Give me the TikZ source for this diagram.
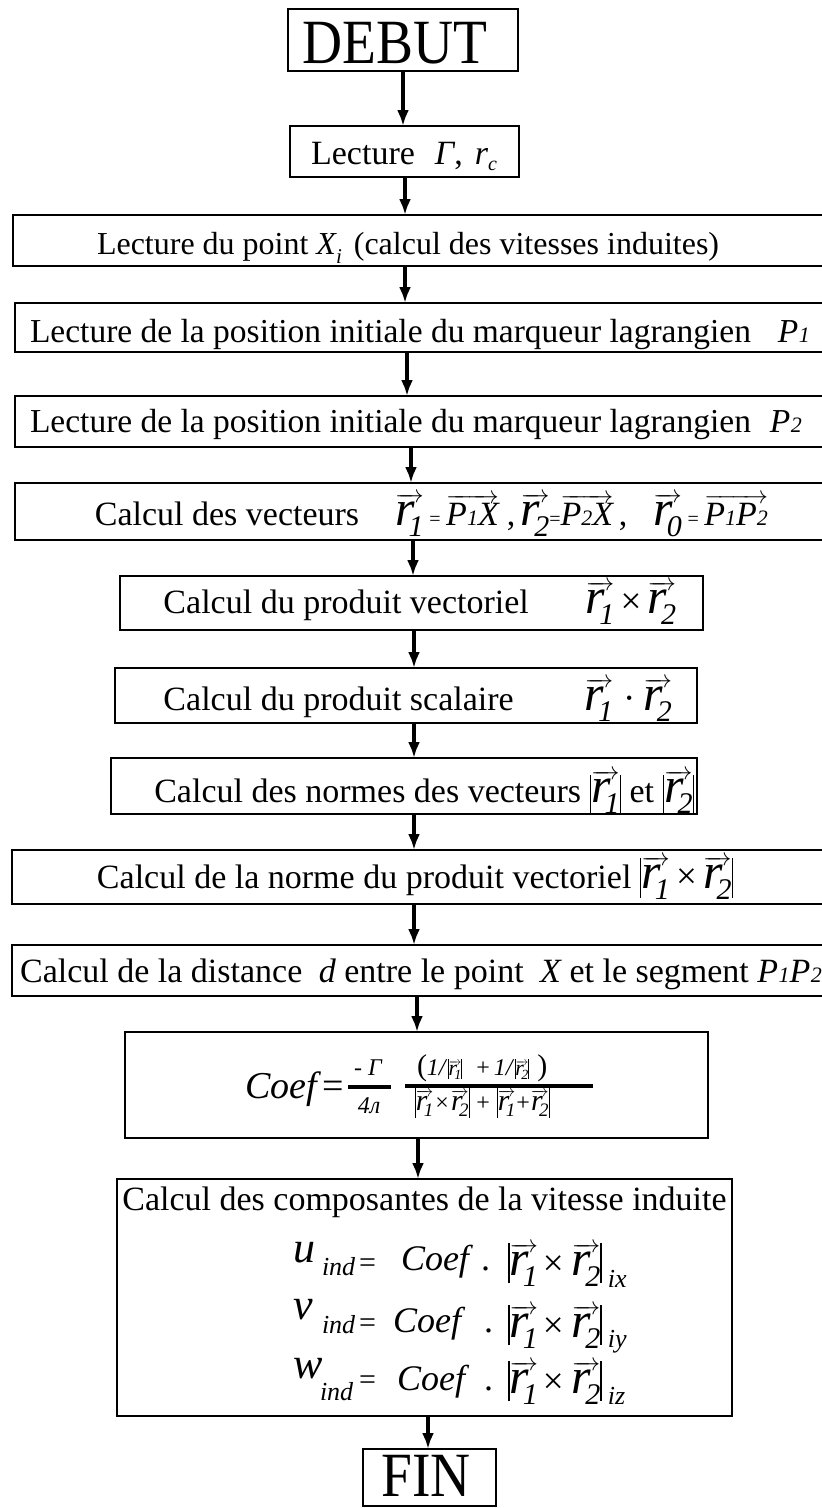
\documentclass[tikz,border=0pt]{standalone}
\usepackage{fontspec}
\setmainfont{Liberation Serif}
\newfontfamily\condfont[FakeStretch=0.88]{Liberation Serif}
\usetikzlibrary{arrows.meta}
\newcommand\fsz[1]{\fontsize{#1}{#1}\selectfont}
% vector r with arrow: #1 math size, #2 r size, #3 sub size, #4 lowering, #5 subscript
\newcommand\vecr[5]{\mbox{\fsz{#1}$\overrightarrow{\mbox{\fsz{#2}\itshape r\kern-0.12em\raisebox{-#4pt}{\fsz{#3}#5}}}$}}
\newcommand\rvv[1]{\vecr{28}{50}{30}{11}{#1}}
\newcommand\rvm[1]{\vecr{16}{30}{19}{6}{#1}}
\newcommand\rvs[1]{\vecr{12}{22}{14}{4}{#1}}
\newcommand\ovt[1]{\mbox{\fsz{28}$\overrightarrow{\mbox{\fsz{34}\itshape #1}}$}}
\newcommand\Pn[1]{{\itshape P\kern0.5pt{\fsz{22}#1}}}
\newcommand\nbar[2]{\rule[-#2pt]{1.5pt}{#1pt}}
\newcommand\nbars[2]{\rule[-#2pt]{0.9pt}{#1pt}}
\newcommand\crossrr{\nbar{40}{8}\rvv{1}\hspace{5pt}{\fsz{37}×}\hspace{8pt}\rvv{2}\nbar{40}{8}}
\begin{document}
\begin{tikzpicture}[x=1pt,y=-1pt,
  box/.style={draw=black,line width=2.8pt,inner sep=0pt,outer sep=0pt},
  arr/.style={draw=black,line width=3.5pt,-{Latex[length=16pt,width=12pt]}},
  txt/.style={inner sep=0pt,outer sep=0pt,font=\fsz{34}},
  bar/.style={line width=4pt}]
\path[use as bounding box] (0,0) rectangle (822,1508);
\clip (0,0) rectangle (822,1508);
% boxes
\node[box,minimum width=230,minimum height=62] (b1) at (403,40) {};
\node[box,minimum width=229,minimum height=51] (b2) at (404.5,151.5) {};
\node[box,minimum width=830,minimum height=51] (b3) at (428,240.5) {};
\node[box,minimum width=830,minimum height=49] (b4) at (430,327.5) {};
\node[box,minimum width=830,minimum height=51] (b5) at (430,421.5) {};
\node[box,minimum width=830,minimum height=57] (b6) at (430,511.5) {};
\node[box,minimum width=583,minimum height=54] (b7) at (411.5,603) {};
\node[box,minimum width=582,minimum height=55] (b8) at (406,695.5) {};
\node[box,minimum width=586,minimum height=56] (b9) at (404,786) {};
\node[box,minimum width=833,minimum height=54] (b10) at (428.5,877) {};
\node[box,minimum width=833,minimum height=51] (b11) at (428.5,970.5) {};
\node[box,minimum width=583,minimum height=106] (b12) at (416.5,1085) {};
\node[box,minimum width=615,minimum height=237] (b13) at (424.5,1297.5) {};
\node[box,minimum width=133,minimum height=57] (b14) at (429.5,1477.5) {};
% connector columns
\coordinate (a1) at (403,0);
\coordinate (a2) at (405,0);
\coordinate (a3) at (405,0);
\coordinate (a4) at (407,0);
\coordinate (a5) at (411,0);
\coordinate (a6) at (413,0);
\coordinate (a7) at (414,0);
\coordinate (a8) at (414,0);
\coordinate (a9) at (414,0);
\coordinate (a10) at (414,0);
\coordinate (a11) at (417,0);
\coordinate (a12) at (418,0);
\coordinate (a13) at (428,0);
\draw[arr] (b1.south -| a1) -- (b2.north -| a1);
\draw[arr] (b2.south -| a2) -- (b3.north -| a2);
\draw[arr] (b3.south -| a3) -- (b4.north -| a3);
\draw[arr] (b4.south -| a4) -- (b5.north -| a4);
\draw[arr] (b5.south -| a5) -- (b6.north -| a5);
\draw[arr] (b6.south -| a6) -- (b7.north -| a6);
\draw[arr] (b7.south -| a7) -- (b8.north -| a7);
\draw[arr] (b8.south -| a8) -- (b9.north -| a8);
\draw[arr] (b9.south -| a9) -- (b10.north -| a9);
\draw[arr] (b10.south -| a10) -- (b11.north -| a10);
\draw[arr] (b11.south -| a11) -- (b12.north -| a11);
\draw[arr] (b12.south -| a12) -- (b13.north -| a12);
\draw[arr] (b13.south -| a13) -- (b14.north -| a13);
% texts
\node[txt,font=\condfont\fsz{63}] (t1) at (395,43.5) {DEBUT};
\node[txt,anchor=base] (t2) at (404,164) {Lecture\hspace{20pt}{\itshape Γ},\hspace{12pt}{\itshape r\raisebox{-6pt}{\fsz{20}c}}};
\node[txt,anchor=base west,font=\fsz{32}] (t3) at (97,254) {Lecture du point {\itshape X\raisebox{-9pt}{\fsz{21}i}}\hspace{12pt}(calcul des vitesses induites)};
\node[txt,anchor=base west,font=\fsz{33.5}] (t4) at (30,342) {Lecture de la position initiale du marqueur lagrangien\hspace{27pt}\Pn{1}};
\node[txt,anchor=base west,font=\fsz{33.5}] (t5) at (30,432) {Lecture de la position initiale du marqueur lagrangien\hspace{19pt}\Pn{2}};
\node[txt,anchor=base east] (t6) at (768,525) {Calcul des vecteurs\hspace{36pt}\rvv{1}\,{\fsz{20}=}\,\ovt{P{\fsz{22}1}X}\hspace{8pt},\,\rvv{2}{\fsz{20}=}\ovt{P{\fsz{22}2}X}\,,\hspace{26pt}\rvv{0}\,{\fsz{20}=}\,\ovt{P{\fsz{22}1}P{\fsz{22}2}}};
\node[txt,anchor=base east] (t7) at (676,613) {Calcul du produit vectoriel\hspace{57pt}\rvv{1}{\fsz{37}\,×\,}\rvv{2}};
\node[txt,anchor=base east] (t8) at (672,710) {Calcul du produit scalaire\hspace{71pt}\rvv{1}\hspace{10pt}{\fsz{37}·}\hspace{8pt}\rvv{2}};
\node[txt,anchor=base east] (t9) at (694,802) {Calcul des normes des vecteurs \nbar{38}{11}\rvv{1}\nbar{38}{11} et \nbar{38}{11}\rvv{2}\nbar{38}{11}};
\node[txt,anchor=base] (t10) at (415,888) {Calcul de la norme du produit vectoriel \nbar{40}{10}\rvv{1}{\fsz{37}\,×\,}\rvv{2}\nbar{40}{10}};
\node[txt,anchor=base] (t11) at (421,982) {Calcul de la distance\hspace{8pt} {\itshape d} entre le point\hspace{8pt} {\itshape X} et le segment \Pn{1}\Pn{2}};
% coefficient formula
\node[txt,anchor=base west,font=\fsz{38}\itshape] (c1) at (245,1098) {Coef};
\node[txt,anchor=base west,font=\fsz{38}] (c2) at (322,1098) {=};
\draw[bar] (348,1087) -- (391,1087);
\node[txt,anchor=base,font=\fsz{24}\itshape] (c3) at (368,1075) {- Γ};
\node[txt,anchor=base,font=\fsz{24}\itshape] (c4) at (369,1113) {4л};
\draw[bar] (405,1086) -- (593,1086);
\node[txt,anchor=base west,font=\fsz{24}\itshape] (c5) at (417,1075) {{\upshape\fsz{30}(}1/\hspace{2pt}\nbars{20}{4}\rvs{1}\nbars{20}{4}\hspace{14pt}{\upshape +}\hspace{4pt}1/\hspace{2pt}\nbars{20}{4}\rvs{2}\nbars{20}{4}\hspace{8pt}{\upshape\fsz{30})}};
\node[txt,anchor=base west,font=\fsz{24}\itshape] (c6) at (415,1110) {\nbars{30}{8}\rvm{1}\hspace{2pt}{\upshape×}\hspace{2pt}\rvm{2}\nbars{30}{8}\hspace{7pt}{\upshape +}\hspace{7pt}\nbars{30}{8}\rvm{1}\hspace{1pt}{\upshape +}\hspace{1pt}\rvm{2}\nbars{30}{8}};
% components
\node[txt,anchor=base] (t13) at (424.5,1210) {Calcul des composantes de la vitesse induite};
\node[txt,anchor=base west,font=\fsz{44}\itshape] (u1) at (293,1262) {u};
\node[txt,anchor=base west,font=\fsz{26}\itshape] (u2) at (322,1275) {ind};
\node[txt,anchor=base west,font=\fsz{30}] (u3) at (359,1272.5) {=};
\node[txt,anchor=base west,font=\fsz{36}\itshape] (u4) at (401,1270) {Coef};
\node[txt,anchor=base west,font=\fsz{36}] (u5) at (481,1270) {.};
\node[txt,anchor=base west] (u6) at (508,1275) {\crossrr\hspace{6pt}\raisebox{-12pt}{\fsz{26}\itshape ix}};
\node[txt,anchor=base west,font=\fsz{44}\itshape] (v1) at (293,1319) {v};
\node[txt,anchor=base west,font=\fsz{26}\itshape] (v2) at (322,1333) {ind};
\node[txt,anchor=base west,font=\fsz{30}] (v3) at (359,1332.5) {=};
\node[txt,anchor=base west,font=\fsz{36}\itshape] (v4) at (393,1332) {Coef};
\node[txt,anchor=base west,font=\fsz{36}] (v5) at (484,1332) {.};
\node[txt,anchor=base west] (v6) at (508,1337) {\crossrr\hspace{6pt}\raisebox{-10pt}{\fsz{26}\itshape iy}};
\node[txt,anchor=base west,font=\fsz{44}\itshape] (w1) at (293,1378) {w};
\node[txt,anchor=base west,font=\fsz{26}\itshape] (w2) at (320,1400) {ind};
\node[txt,anchor=base west,font=\fsz{30}] (w3) at (359,1389.5) {=};
\node[txt,anchor=base west,font=\fsz{36}\itshape] (w4) at (397,1390) {Coef};
\node[txt,anchor=base west,font=\fsz{36}] (w5) at (484,1390) {.};
\node[txt,anchor=base west] (w6) at (508,1393) {\crossrr\hspace{6pt}\raisebox{-11pt}{\fsz{26}\itshape iz}};
\node[txt,font=\condfont\fsz{63}] (t14) at (426,1476) {FIN};
\end{tikzpicture}
\end{document}
